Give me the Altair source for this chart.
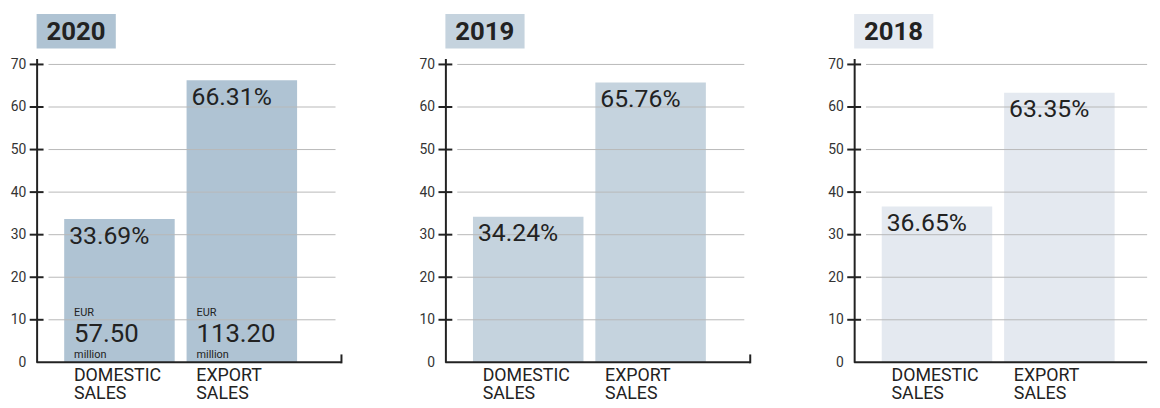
import altair as alt
import pandas as pd

# ---- data ----
years = ["2020", "2019", "2018"]
categories = ["DOMESTIC SALES", "EXPORT SALES"]
domestic_pct = [33.69, 34.24, 36.65]
export_pct = [66.31, 65.76, 63.35]
eur_2020 = ["57.50", "113.20"]
tick_values = [0, 10, 20, 30, 40, 50, 60, 70]
panel_colors = ["#afc3d3", "#c5d3de", "#e4e9f0"]

NUM_FONT = "Roboto"
LBL_FONT = "Roboto"
INK = "#222222"
W, H = 309, 307
WIDTHS = [309, 309, 296]   # last panel is cut by the right edge of the picture
YMAX = 71.4


def panel(i):
    year = years[i]
    color = panel_colors[i]
    width = WIDTHS[i]
    full = width >= W
    df = pd.DataFrame({
        "cat": categories,
        "pct": [domestic_pct[i], export_pct[i]],
    })
    df["label"] = df["pct"].map(lambda v: f"{v:.2f}%")

    xscale = alt.Scale(paddingInner=0.097, paddingOuter=0.298, align=0.378, range=[0, W])
    xenc = alt.X("cat:N", sort=categories, scale=xscale,
                 axis=alt.Axis(title=None, domain=False,
                               ticks=False, grid=False, labelAngle=0,
                               labelExpr="split(datum.label, ' ')",
                               labelAlign="left", labelOffset=-46, labelBaseline="top",
                               labelPadding=4, labelFont=LBL_FONT, labelFontSize=18,
                               labelLineHeight=19, labelColor=INK))
    yscale = alt.Scale(domain=[0, YMAX], nice=False, zero=True)
    yaxis = alt.Axis(title=None, values=tick_values, ticks=False, grid=False,
                     domain=True, domainColor=INK, domainWidth=2,
                     labelPadding=11, labelFont=NUM_FONT, labelFontSize=14,
                     labelColor="#333333")

    base = alt.Chart(df)
    bars = base.mark_bar(color=color).encode(
        x=xenc,
        y=alt.Y("pct:Q", scale=yscale, axis=yaxis),
    )
    pct_text = base.mark_text(align="left", baseline="top", dx=5, dy=5,
                              font=NUM_FONT, fontSize=25, color=INK).encode(
        x=alt.X("cat:N", sort=categories, bandPosition=0),
        y=alt.Y("pct:Q"),
        text="label:N",
    )

    grid_df = pd.DataFrame({"v": tick_values[1:]})
    grid = alt.Chart(grid_df).mark_rule(color="#b8b8b8", strokeWidth=1).encode(
        y=alt.Y("v:Q"), x=alt.value(12), x2=alt.value(min(302, width)))
    ticks = alt.Chart(grid_df).mark_rule(color=INK, strokeWidth=2).encode(
        y=alt.Y("v:Q"), x=alt.value(-7), x2=alt.value(7))
    baseline = alt.Chart(grid_df.head(1)).mark_rule(color=INK, strokeWidth=2).encode(
        x=alt.value(0), x2=alt.value(width if not full else width - 1),
        y=alt.value(H))

    year_df = pd.DataFrame({"year": [year]})
    year_box = alt.Chart(year_df).mark_rect(color=color).encode(
        x=alt.value(0), x2=alt.value(80), y=alt.value(-45), y2=alt.value(-10))
    year_text = alt.Chart(year_df).mark_text(
        align="left", baseline="middle", font=NUM_FONT, fontSize=26,
        fontWeight="bold", color=INK).encode(
        x=alt.value(10), y=alt.value(-27), text="year:N")

    layers = [bars, grid, ticks, baseline, pct_text, year_box, year_text]

    if full:
        end_tick = alt.Chart(grid_df.head(1)).mark_rule(color=INK, strokeWidth=2).encode(
            x=alt.value(width - 1), y=alt.value(H + 1), y2=alt.value(H - 8))
        layers.append(end_tick)

    if year == "2020":
        eur_df = pd.DataFrame({"cat": categories, "amount": eur_2020})
        eb = alt.Chart(eur_df)
        xb = alt.X("cat:N", sort=categories, bandPosition=0)
        eur_lbl = eb.mark_text(align="left", baseline="alphabetic", dx=10, dy=-47,
                               font=NUM_FONT, fontSize=11, color=INK).encode(
            x=xb, y=alt.datum(0), text=alt.value("EUR"))
        eur_val = eb.mark_text(align="left", baseline="alphabetic", dx=10, dy=-21,
                               font=NUM_FONT, fontSize=26, color=INK).encode(
            x=xb, y=alt.datum(0), text="amount:N")
        eur_mil = eb.mark_text(align="left", baseline="alphabetic", dx=10, dy=-4,
                               font=NUM_FONT, fontSize=11, color=INK).encode(
            x=xb, y=alt.datum(0), text=alt.value("million"))
        layers += [eur_lbl, eur_val, eur_mil]

    return alt.layer(*layers).properties(width=width, height=H)


chart = alt.hconcat(panel(0), panel(1), panel(2), spacing=77).properties(
    padding={"left": 10, "top": 12, "right": 0, "bottom": 0},
    background="white",
).configure_view(stroke=None)

chart.save("out.html", embed_options={"renderer": "svg", "actions": False})
